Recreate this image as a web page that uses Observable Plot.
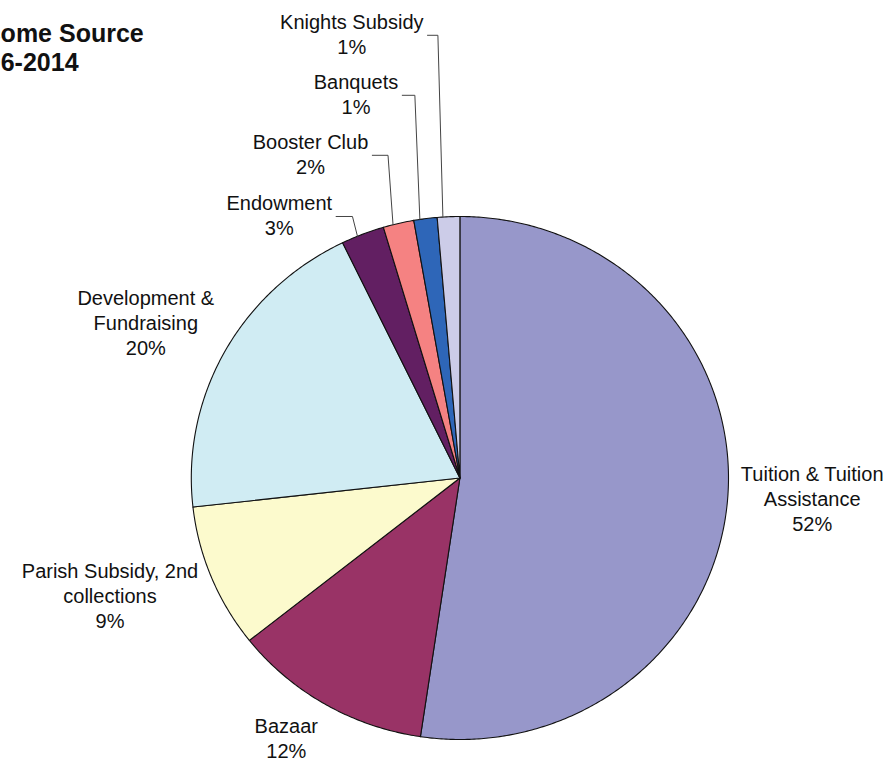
<!DOCTYPE html>
<html>
<head>
<meta charset="utf-8">
<script src="https://cdn.jsdelivr.net/npm/d3@7"></script>
<script src="https://cdn.jsdelivr.net/npm/@observablehq/plot@0.6"></script>
<style>
  body { margin: 0; background: #fff; }
  #chart svg { display: block; }
</style>
</head>
<body>
<div id="chart"></div>
<script>
// ---- data ----
const categories = [
  "Tuition & Tuition Assistance", "Bazaar", "Parish Subsidy, 2nd collections",
  "Development & Fundraising", "Endowment", "Booster Club", "Banquets", "Knights Subsidy"
];
const labelLines = [
  ["Tuition & Tuition", "Assistance"], ["Bazaar"], ["Parish Subsidy, 2nd", "collections"],
  ["Development &", "Fundraising"], ["Endowment"], ["Booster Club"], ["Banquets"], ["Knights Subsidy"]
];
const values = [52.4, 12.0, 8.9, 19.6, 2.6, 1.85, 1.4, 1.35];
const titleLines = ["Income Source", "2006-2014"];

// ---- styles / layout ----
const colors = ["#9797ca", "#993366", "#fcfacd", "#d0ecf3", "#621f62", "#f58282", "#2e66b8", "#cccce8"];
const W = 889, H = 762, CX = 459.4, CY = 477.5, RX = 268.6, RY = 261.5;
// label anchor (centre x, first-line baseline) in radius units
const labelX = [1.3116, -0.6463, -1.3027, -1.1694, -0.6724, -0.5562, -0.3868, -0.4025];
const labelY = [-0.0096, -0.977, -0.3805, 0.6597, 1.0249, 1.2589, 1.4883, 1.7178];
const hasLeader = [false, false, false, false, true, true, true, true];
const FONT = "Liberation Sans, Arial, Helvetica, sans-serif";

const ctx = document.createElement("canvas").getContext("2d");
function textWidth(s, size, weight) {
  ctx.font = `${weight || "normal"} ${size}px "Liberation Sans", Arial, sans-serif`;
  return ctx.measureText(s).width;
}

const total = d3.sum(values);
const arcs = d3.pie().sort(null).startAngle(0).endAngle(2 * Math.PI)(values);

// slice polygons
const slicePts = [];
arcs.forEach((a, i) => {
  slicePts.push({i, x: 0, y: 0});
  const n = Math.max(2, Math.ceil((a.endAngle - a.startAngle) / (Math.PI / 360)));
  for (let k = 0; k <= n; ++k) {
    const t = a.startAngle + (a.endAngle - a.startAngle) * k / n;
    slicePts.push({i, x: Math.sin(t), y: Math.cos(t)});
  }
});

// labels
const labels = categories.map((c, i) => ({
  i,
  x: labelX[i],
  y: labelY[i],
  text: [...labelLines[i], Math.round(values[i] / total * 100) + "%"].join("\n")
}));

// leader lines
const leaderPts = [];
arcs.forEach((a, i) => {
  if (!hasLeader[i]) return;
  const mid = (a.startAngle + a.endAngle) / 2 - 1.2 * Math.PI / 180;
  const ex = Math.sin(mid), ey = Math.cos(mid);
  const w = textWidth(labelLines[i][0], 20);
  const ly = labelY[i] - 6.5 / RY;
  leaderPts.push({i, x: labelX[i] + (w / 2 + 4) / RX, y: ly});
  leaderPts.push({i, x: ex - 5 / RX, y: ly});
  leaderPts.push({i, x: ex, y: ey});
});

const chart = Plot.plot({
  width: W,
  height: H,
  margin: 0,
  style: {fontFamily: FONT, background: "#fff"},
  x: {domain: [-CX / RX, (W - CX) / RX], axis: null},
  y: {domain: [-(H - CY) / RY, CY / RY], axis: null},
  color: {domain: categories, range: colors},
  marks: [
    Plot.line(slicePts, {
      x: "x", y: "y", z: "i",
      fill: d => categories[d.i],
      stroke: "#111", strokeWidth: 1.1, strokeLinejoin: "round",
      curve: "linear-closed"
    }),
    Plot.line(leaderPts, {x: "x", y: "y", z: "i", stroke: "#444", strokeWidth: 1}),
    Plot.text(labels, {
      x: "x", y: "y", text: "text",
      lineAnchor: "top", dy: -17.75, lineHeight: 1.25,
      fontSize: 20, fill: "#111", textAnchor: "middle"
    }),
    Plot.text([titleLines[0]], {
      text: d => d, frameAnchor: "top-left", textAnchor: "start", lineAnchor: "bottom",
      dx: -36, dy: 41,
      fontSize: 25, fontWeight: "bold", fill: "#111"
    }),
    Plot.text([titleLines[1]], {
      text: d => d, frameAnchor: "top-left", textAnchor: "start", lineAnchor: "bottom",
      dx: -41.5, dy: 70,
      fontSize: 25, fontWeight: "bold", fill: "#111"
    })
  ]
});
document.getElementById("chart").appendChild(chart);
</script>
</body>
</html>
